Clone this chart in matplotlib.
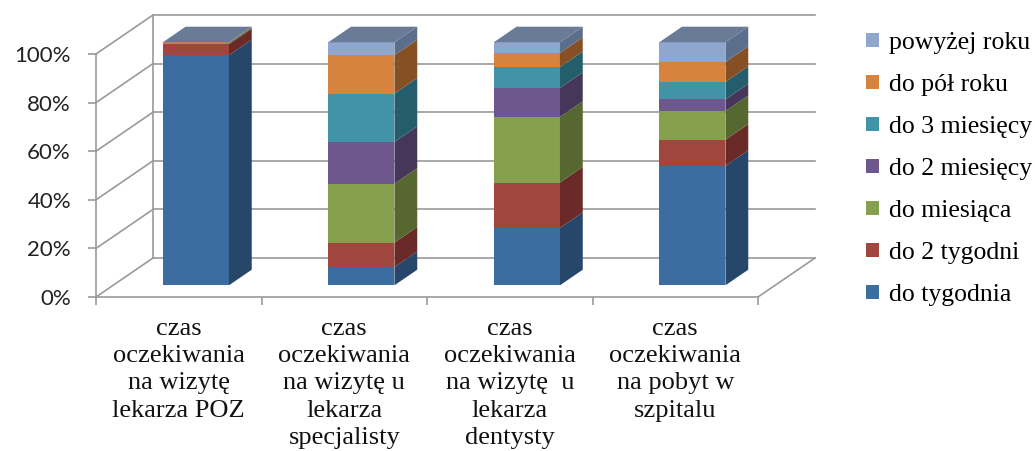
import matplotlib
matplotlib.use("Agg")
import matplotlib.pyplot as plt
from matplotlib.patches import Polygon, Patch
import numpy as np

categories = [
    "czas\noczekiwania\nna wizytę\nlekarza POZ",
    "czas\noczekiwania\nna wizytę u\nlekarza\nspecjalisty",
    "czas\noczekiwania\nna wizytę  u\nlekarza\ndentysty",
    "czas\noczekiwania\nna pobyt w\nszpitalu",
]
series_names = ["do tygodnia", "do 2 tygodni", "do miesiąca", "do 2 miesięcy",
                "do 3 miesięcy", "do pół roku", "powyżej roku"]
do_tygodnia   = [94.7, 7.5, 23.6, 49.1]
do_2_tygodni  = [4.5, 10.1, 18.7, 10.8]
do_miesiaca   = [0.5, 24.2, 27.0, 11.8]
do_2_miesiecy = [0.1, 17.2, 11.9, 4.8]
do_3_miesiecy = [0.1, 19.9, 8.6, 7.2]
do_pol_roku   = [0.1, 15.8, 5.8, 8.2]
powyzej_roku  = [0.0, 5.3, 4.4, 8.1]
yticks = [0, 20, 40, 60, 80, 100]

values = [do_tygodnia, do_2_tygodni, do_miesiaca, do_2_miesiecy,
          do_3_miesiecy, do_pol_roku, powyzej_roku]
front_colors = ["#3C6DA0", "#A1463F", "#87A04D", "#6E578C", "#4194A8", "#D5833E", "#8FA6CE"]
side_colors  = ["#26466A", "#6A2A27", "#56682F", "#45365A", "#245E6C", "#875024", "#5B6E8C"]
top_color = "#6A7B97"
grid_color = "#9A9A9A"

W, H = 1035, 451
fig = plt.figure(figsize=(W / 100, H / 100), dpi=100)
x_front0, x_front4 = 96, 758
y0px, y100px = 297, 54
ax = fig.add_axes([x_front0 / W, (H - y0px) / H, (x_front4 - x_front0) / W, (y0px - y100px) / H])
ax.set_xlim(0, len(categories))
ax.set_ylim(0, 100)

cat_px = (x_front4 - x_front0) / len(categories)
DX = 57 / cat_px          # depth offset in category units
DY = 39 / ((y0px - y100px) / 100.0)  # depth offset in percent units

n = len(categories)
# back wall gridlines and side diagonals
for p in yticks:
    ax.plot([DX, n + DX], [p + DY, p + DY], color=grid_color, lw=1.2, clip_on=False, zorder=1)
    ax.plot([0, DX], [p, p + DY], color=grid_color, lw=1.2, clip_on=False, zorder=1)
ax.plot([DX, DX], [DY, 100 + DY], color=grid_color, lw=1.2, clip_on=False, zorder=1)
ax.plot([n, n + DX], [0, DY], color=grid_color, lw=1.2, clip_on=False, zorder=1)

# bars
d0, d1 = 0.3, 0.7
bw0, bw1 = 0.3, 0.7
for i in range(n):
    bottom = 0.0
    ox0, oy0 = d0 * DX, d0 * DY
    ox1, oy1 = d1 * DX, d1 * DY
    xl, xr = i + bw0, i + bw1
    for s, vals in enumerate(values):
        v = vals[i]
        top = bottom + v
        if v > 0:
            front = Polygon([(xl + ox0, bottom + oy0), (xr + ox0, bottom + oy0),
                             (xr + ox0, top + oy0), (xl + ox0, top + oy0)],
                            closed=True, facecolor=front_colors[s], edgecolor="none",
                            clip_on=False, zorder=3)
            side = Polygon([(xr + ox0, bottom + oy0), (xr + ox1, bottom + oy1),
                            (xr + ox1, top + oy1), (xr + ox0, top + oy0)],
                           closed=True, facecolor=side_colors[s], edgecolor="none",
                           clip_on=False, zorder=3)
            ax.add_patch(front)
            ax.add_patch(side)
        bottom = top
    topface = Polygon([(xl + ox0, bottom + oy0), (xr + ox0, bottom + oy0),
                       (xr + ox1, bottom + oy1), (xl + ox1, bottom + oy1)],
                      closed=True, facecolor=top_color, edgecolor="none",
                      clip_on=False, zorder=3)
    ax.add_patch(topface)

# axes styling
for sp in ["top", "right"]:
    ax.spines[sp].set_visible(False)
for sp in ["left", "bottom"]:
    ax.spines[sp].set_color(grid_color)
    ax.spines[sp].set_linewidth(1.2)
    ax.spines[sp].set_zorder(2)
ax.set_yticks(yticks)
ax.set_yticklabels([f"{t}%" for t in yticks], family="Lato", fontsize=16, color="#222222")
ax.tick_params(axis="y", direction="out", length=6, width=1.2, color=grid_color, pad=12)
ax.set_xticks(np.arange(n + 1))
ax.set_xticklabels([])
ax.tick_params(axis="x", which="major", direction="out", length=6, width=1.2, color=grid_color)
ax.set_xticks(np.arange(n) + 0.5, minor=True)
ax.set_xticklabels(categories, minor=True, family="Liberation Serif", fontsize=19,
                   linespacing=1.31, color="#111111")
ax.tick_params(axis="x", which="minor", length=0, pad=15)

# legend
handles = [Patch(facecolor=front_colors[s], edgecolor="none") for s in range(len(series_names))][::-1]
leg = fig.legend(handles, series_names[::-1], loc="upper left",
                 bbox_to_anchor=(866 / W, 1 - 32 / H), frameon=False,
                 prop={"family": "Liberation Serif", "size": 18.5},
                 handlelength=0.5, handleheight=0.5, handletextpad=0.4,
                 labelspacing=0.78, borderaxespad=0, borderpad=0)

fig.savefig("out.png", dpi=100)
